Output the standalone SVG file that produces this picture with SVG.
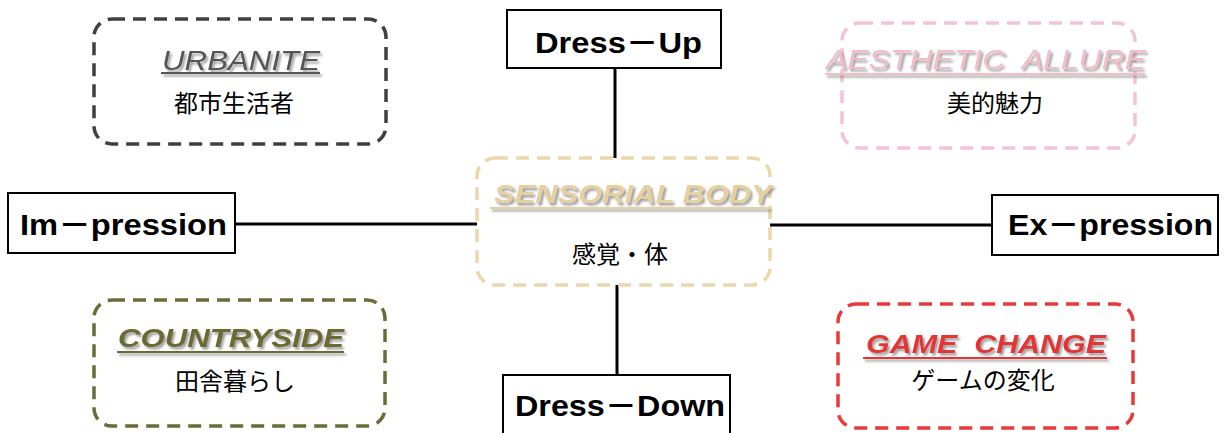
<svg xmlns="http://www.w3.org/2000/svg" width="1228" height="433" viewBox="0 0 1228 433">
<style>
.bg{fill:#ffffff}
.conn{stroke:#000;stroke-width:3;fill:none}
.box{fill:#fff;stroke:#000;stroke-width:2}
.lbl{font-family:"Liberation Sans","Noto Sans CJK JP",sans-serif;font-weight:bold;font-size:30px;fill:#000}
.dash{fill:#fff;stroke-width:3.5;stroke-dasharray:13 8}
.ttl{font-family:"Liberation Sans",Arial,sans-serif;font-style:italic;filter:url(#sh);white-space:pre}
.jp{font-family:"Noto Sans CJK JP",sans-serif;font-size:24px;fill:#000;text-anchor:middle}
.ul{filter:url(#sh)}
</style>
<defs>
<filter id="sh" filterUnits="userSpaceOnUse" x="0" y="0" width="1228" height="433">
<feDropShadow dx="2" dy="2.5" stdDeviation="1.2" flood-color="#777" flood-opacity="0.7"/>
</filter>
</defs>
<rect class="bg" x="0" y="0" width="1228" height="433"/>
<g id="connectors">
<line class="conn" x1="615" y1="68" x2="615" y2="158"/>
<line class="conn" x1="617" y1="285" x2="617" y2="375"/>
<line class="conn" x1="235" y1="224" x2="477" y2="224"/>
<line class="conn" x1="770" y1="225" x2="992" y2="225"/>
</g>
<g id="urbanite">
<rect class="dash" x="94" y="19" width="292" height="125" rx="18" stroke="#404040"/>
<text class="ttl" x="162" y="70" font-size="28" fill="#555555" textLength="158" lengthAdjust="spacingAndGlyphs">URBANITE</text>
<rect class="ul" x="161" y="72" width="159" height="2" fill="#555555"/>
<text class="jp" x="234" y="112">都市生活者</text>
</g>
<g id="aesthetic">
<rect class="dash" x="842" y="23" width="293" height="125" rx="18" stroke="#f4c4d2"/>
<text class="ttl" x="826" y="69" font-size="28" fill="#f2bccb" textLength="320" lengthAdjust="spacingAndGlyphs">AESTHETIC  ALLURE</text>
<rect class="ul" x="825" y="73" width="320" height="2" fill="#f2bccb"/>
<text class="jp" x="995" y="112">美的魅力</text>
</g>
<g id="sensorial">
<rect class="dash" x="477" y="158" width="293" height="127" rx="18" stroke="#ebd7ac"/>
<text class="ttl" x="494" y="203" font-size="25" font-weight="bold" fill="#e6d0a0" textLength="278" lengthAdjust="spacingAndGlyphs">SENSORIAL BODY</text>
<rect class="ul" x="490" y="207" width="280" height="2" fill="#e6d0a0"/>
<text class="jp" x="620" y="263">感覚・体</text>
</g>
<g id="countryside">
<rect class="dash" x="94" y="300" width="291" height="126" rx="18" stroke="#6b6b38"/>
<text class="ttl" x="118" y="347" font-size="25" font-weight="bold" fill="#6b6b30" textLength="226" lengthAdjust="spacingAndGlyphs">COUNTRYSIDE</text>
<rect class="ul" x="117" y="351" width="227" height="2" fill="#6b6b30"/>
<text class="jp" x="235" y="390">田舎暮らし</text>
</g>
<g id="gamechange">
<rect class="dash" x="838" y="304" width="295" height="124" rx="18" stroke="#e83a3a"/>
<text class="ttl" x="866" y="353" font-size="25" font-weight="bold" fill="#e33535" textLength="240" lengthAdjust="spacingAndGlyphs">GAME  CHANGE</text>
<rect class="ul" x="863" y="357" width="244" height="2" fill="#e33535"/>
<text class="jp" x="983" y="389">ゲームの変化</text>
</g>
<g id="dressup">
<rect class="box" x="507" y="10" width="214" height="58"/>
<text class="lbl" x="535" y="53" textLength="167" lengthAdjust="spacingAndGlyphs">Dress－Up</text>
</g>
<g id="impression">
<rect class="box" x="8" y="193" width="227" height="60"/>
<text class="lbl" x="20" y="235" textLength="207" lengthAdjust="spacingAndGlyphs">Im－pression</text>
</g>
<g id="expression">
<rect class="box" x="992" y="195" width="226" height="60"/>
<text class="lbl" x="1008" y="235" textLength="205" lengthAdjust="spacingAndGlyphs">Ex－pression</text>
</g>
<g id="dressdown">
<rect class="box" x="503" y="375" width="227" height="70"/>
<text class="lbl" x="515" y="416" textLength="210" lengthAdjust="spacingAndGlyphs">Dress－Down</text>
</g>
</svg>
